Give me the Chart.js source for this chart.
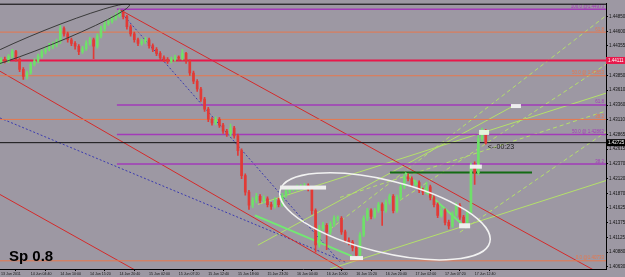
<!DOCTYPE html>
<html><head><meta charset="utf-8">
<script src="https://cdn.jsdelivr.net/npm/chart.js@4.4.1/dist/chart.umd.min.js"></script>
<style>html,body{margin:0;padding:0;background:#9d98a3;overflow:hidden}#wrap{width:625px;height:277px;position:relative}</style>
</head><body><div id="wrap"><canvas id="c" width="625" height="277"></canvas></div>
<script>
// ---- data ----
const xLabels = ['13 Jun 2011','14 Jun 04:40','14 Jun 10:00','14 Jun 15:20','14 Jun 20:40','15 Jun 02:00','15 Jun 07:20','15 Jun 12:40','15 Jun 18:00','15 Jun 23:20','16 Jun 04:40','16 Jun 10:00','16 Jun 15:20','16 Jun 20:40','17 Jun 02:00','17 Jun 07:20','17 Jun 12:40'];
const xTickIdx = [0,8,16,24,32,40,48,56,64,72,80,88,96,104,112,120,128];
const yTickLabels = ['1.44850','1.44600','1.44355','1.44106','1.43850','1.43610','1.43360','1.43110','1.42865','1.42615','1.42370','1.42120','1.41870','1.41625','1.41375','1.41125','1.40880','1.40630'];

const opens = [1.4408,1.4413,1.4410,1.4418,1.4426,1.4413,1.4396,1.4384,1.4390,1.4405,
1.4410,1.4418,1.4426,1.4430,1.4435,1.4438,1.4443,1.4465,1.4456,1.4446,
1.4440,1.4435,1.4426,1.4431,1.4440,1.4446,1.4435,1.4452,1.4465,1.4473,
1.4477,1.4482,1.4487,1.4493,1.4485,1.4468,1.4456,1.4446,1.4440,1.4443,
1.4446,1.4436,1.4430,1.4423,1.4416,1.4413,1.4410,1.4413,1.4416,1.4415,
1.4423,1.4410,1.4390,1.4376,1.4363,1.4346,1.4329,1.4312,1.4306,1.4312,
1.4302,1.4292,1.4287,1.4297,1.4284,1.4259,1.4217,1.4189,1.4167,1.4175,
1.4182,1.4175,1.4178,1.4168,1.4165,1.4175,1.4168,1.4183,1.4190,1.4195,
1.4195,1.4197,1.4198,1.4200,1.4195,1.4158,1.4100,1.4128,1.4133,1.4122,
1.4135,1.4145,1.4145,1.4122,1.4108,1.4105,1.4095,1.4083,1.4117,1.4145,
1.4158,1.4148,1.4158,1.4168,1.4158,1.4172,1.4182,1.4158,1.4180,1.4198,
1.4215,1.4212,1.4202,1.4205,1.4192,1.4189,1.4198,1.4180,1.4168,1.4150,
1.4158,1.4138,1.4132,1.4152,1.4167,1.4147,1.4138,1.4155,1.4232,1.4222,
1.4279,1.4292];
const highs = [1.4416,1.4417,1.4421,1.4430,1.4428,1.4415,1.4399,1.4393,1.4408,1.4414,
1.4422,1.4429,1.4434,1.4440,1.4442,1.4447,1.4470,1.4468,1.4459,1.4449,
1.4443,1.4438,1.4435,1.4444,1.4450,1.4449,1.4456,1.4469,1.4477,1.4481,
1.4486,1.4491,1.4497,1.4495,1.4487,1.4471,1.4459,1.4449,1.4447,1.4450,
1.4449,1.4439,1.4433,1.4426,1.4419,1.4416,1.4417,1.4420,1.4419,1.4430,
1.4425,1.4412,1.4393,1.4379,1.4366,1.4349,1.4332,1.4315,1.4316,1.4315,
1.4305,1.4295,1.4304,1.4300,1.4287,1.4262,1.4220,1.4192,1.4180,1.4187,
1.4185,1.4183,1.4181,1.4172,1.4180,1.4179,1.4187,1.4194,1.4199,1.4199,
1.4201,1.4202,1.4204,1.4203,1.4197,1.4161,1.4133,1.4138,1.4136,1.4139,
1.4149,1.4149,1.4148,1.4125,1.4112,1.4108,1.4098,1.4121,1.4149,1.4162,
1.4161,1.4162,1.4172,1.4171,1.4176,1.4186,1.4185,1.4184,1.4202,1.4219,
1.4220,1.4215,1.4209,1.4208,1.4196,1.4206,1.4201,1.4183,1.4171,1.4163,
1.4161,1.4142,1.4156,1.4171,1.4170,1.4150,1.4159,1.4238,1.4240,1.4285,
1.4297,1.4295];
const lows = [1.4405,1.4407,1.4408,1.4415,1.4410,1.4392,1.4379,1.4380,1.4388,1.4402,
1.4407,1.4415,1.4422,1.4427,1.4431,1.4434,1.4440,1.4452,1.4442,1.4436,
1.4430,1.4421,1.4423,1.4428,1.4437,1.4414,1.4432,1.4449,1.4461,1.4470,
1.4474,1.4479,1.4484,1.4481,1.4464,1.4452,1.4442,1.4436,1.4437,1.4440,
1.4432,1.4426,1.4419,1.4412,1.4409,1.4406,1.4407,1.4410,1.4411,1.4412,
1.4406,1.4386,1.4372,1.4359,1.4342,1.4325,1.4308,1.4302,1.4303,1.4298,
1.4288,1.4283,1.4284,1.4280,1.4251,1.4212,1.4184,1.4160,1.4163,1.4171,
1.4171,1.4171,1.4164,1.4160,1.4162,1.4164,1.4165,1.4180,1.4187,1.4191,
1.4192,1.4194,1.4195,1.4191,1.4152,1.4088,1.4096,1.4124,1.4092,1.4118,
1.4131,1.4140,1.4118,1.4104,1.4100,1.4090,1.4078,1.4080,1.4114,1.4141,
1.4144,1.4145,1.4155,1.4133,1.4155,1.4169,1.4154,1.4155,1.4177,1.4195,
1.4208,1.4198,1.4199,1.4188,1.4185,1.4186,1.4176,1.4164,1.4146,1.4147,
1.4134,1.4127,1.4129,1.4149,1.4143,1.4133,1.4135,1.4152,1.4202,1.4218,
1.4275,1.4270];
const closes = [1.4413,1.4410,1.4418,1.4426,1.4413,1.4396,1.4384,1.4390,1.4405,1.4410,
1.4418,1.4426,1.4430,1.4435,1.4438,1.4443,1.4465,1.4456,1.4446,1.4440,
1.4435,1.4426,1.4431,1.4440,1.4446,1.4435,1.4452,1.4465,1.4473,1.4477,
1.4482,1.4487,1.4493,1.4485,1.4468,1.4456,1.4446,1.4440,1.4443,1.4446,
1.4436,1.4430,1.4423,1.4416,1.4413,1.4410,1.4413,1.4416,1.4415,1.4423,
1.4410,1.4390,1.4376,1.4363,1.4346,1.4329,1.4312,1.4306,1.4312,1.4302,
1.4292,1.4287,1.4297,1.4284,1.4259,1.4217,1.4189,1.4167,1.4175,1.4182,
1.4175,1.4178,1.4168,1.4165,1.4175,1.4168,1.4183,1.4190,1.4195,1.4195,
1.4197,1.4198,1.4200,1.4195,1.4158,1.4100,1.4128,1.4133,1.4122,1.4135,
1.4145,1.4145,1.4122,1.4108,1.4105,1.4095,1.4083,1.4117,1.4145,1.4158,
1.4148,1.4158,1.4168,1.4158,1.4172,1.4182,1.4158,1.4180,1.4198,1.4215,
1.4212,1.4202,1.4205,1.4192,1.4189,1.4198,1.4180,1.4168,1.4150,1.4158,
1.4138,1.4132,1.4152,1.4167,1.4147,1.4138,1.4155,1.4232,1.4222,1.4279,
1.4292,1.4272];

// fibonacci / horizontal levels (price)
const orangeLevels = [1.44589, 1.43853, 1.43117, 1.40733];
const orangeLabels = ['61.8', '50.0 @ 1.43853', '38.2', '0.0 @1.40733'];
const purpleLevels = [1.44973, 1.43360, 1.42862, 1.42364];
const purpleLabels = ['100.0 @1.44973', '61.8', '50.0 @ 1.42862', '38.2'];
const purpleStart = 31.3;
const redLevel = 1.44111;
const currentPrice = 1.42725;
const timerText = '<--00:23';
const spreadText = 'Sp 0.8';

// trend lines: [[barIndex, price],[barIndex, price]]
const redLines = [
  [[32.1, 1.44967], [163.5, 1.40464]],
  [[-0.3, 1.43929], [97.0, 1.40428]],
  [[-0.3, 1.41851], [42.9, 1.40344]]
];
const blueDotted = [
  [[32.7, 1.44900], [91.6, 1.40713]],
  [[-0.3, 1.43141], [93.0, 1.40713]]
];
const greenSolid = [
  [[69.4, 1.40997], [138.9, 1.43359]],
  [[69.4, 1.41684], [163.5, 1.43560]],
  [[88.9, 1.40595], [163.5, 1.42086]]
];
const greenDashed = [
  [[91.6, 1.41801], [163.5, 1.43259]],
  [[107.8, 1.41751], [163.5, 1.44046]],
  [[88.9, 1.41265], [163.5, 1.44866]],
  [[124.0, 1.41215], [163.5, 1.42907]]
];
const brightGreen = [
  [[68.6, 1.41500], [94.8, 1.40813]],
  [[109.2, 1.42220], [124.6, 1.41349]]
];
const darkGreenLevel = [[105.1, 1.42220], [143.5, 1.42220]];
// ellipses: major-axis end points + minor/major ratio
const ellipses = [
  {a: [-9.4, 1.43945], b: [34.7, 1.45051], ratio: 0.09, color: '#3a3a3a', width: 1},
  {a: [75.4, 1.41920], b: [132.1, 1.41046], ratio: 0.333, color: '#f2f2f2', width: 1.5}
];
// small price-label boxes (anchor = left/top)
const boxAnchors = [[75.4, 1.42002], [94.3, 1.40813], [137.8, 1.43376], [129.2, 1.42940], [126.7, 1.42354], [123.8, 1.41366]];

// ---- styles ----
const XMIN = -0.3, XMAX = 163.5, YMIN = 1.40595, YMAX = 1.45068;
const BG = '#9d98a3';
const BULL = '#6fe06a', BEAR = '#e23a36';
const ORANGE = '#e8774c', PURPLE = '#a23bb8', RED = '#e8174a';
const boxSizes = [[46,4],[13,4],[10,4],[10,5],[12,4],[11,5]];

const candleColors = closes.map((c, i) => c >= opens[i] ? BULL : BEAR);
const wickData = closes.map((c, i) => ({x: i, y: [lows[i], highs[i]]}));
const bodyData = closes.map((c, i) => ({x: i, y: [Math.min(opens[i], c), Math.max(opens[i], c)]}));

function seg(pts, color, width, dash, order) {
  return {type: 'line', data: pts.map(p => ({x: p[0], y: p[1]})), borderColor: color, borderWidth: width,
    borderDash: dash || [], pointRadius: 0, fill: false, tension: 0, order: order == null ? 5 : order};
}
const datasets = [];
orangeLevels.forEach(v => datasets.push(seg([[XMIN, v], [XMAX, v]], ORANGE, 1)));
purpleLevels.forEach(v => datasets.push(seg([[purpleStart, v], [XMAX, v]], PURPLE, 1.5)));
datasets.push(seg([[XMIN, redLevel], [XMAX, redLevel]], RED, 2));
datasets.push(seg([[XMIN, currentPrice], [XMAX, currentPrice]], '#111111', 1));
redLines.forEach(l => datasets.push(seg(l, '#d42a2a', 1)));
blueDotted.forEach(l => datasets.push(seg(l, '#3b3bb0', 1, [2, 2])));
greenSolid.forEach(l => datasets.push(seg(l, '#b4e06a', 1)));
greenDashed.forEach(l => datasets.push(seg(l, '#b4e06a', 1, [4, 3])));
brightGreen.forEach(l => datasets.push(seg(l, '#72e872', 2, [], 3)));
datasets.push(seg(darkGreenLevel, '#136b13', 2, [], 3));
datasets.push({type: 'bar', data: wickData, backgroundColor: candleColors, barThickness: 1, grouped: false, order: 1, borderWidth: 0});
datasets.push({type: 'bar', data: bodyData, backgroundColor: candleColors, barThickness: 2, grouped: false, order: 0, borderWidth: 0, minBarLength: 1});

const overlay = {
  id: 'overlay',
  beforeDraw(chart) {
    const ctx = chart.ctx;
    ctx.save(); ctx.fillStyle = BG; ctx.fillRect(0, 0, chart.width, chart.height); ctx.restore();
  },
  afterDatasetsDraw(chart) {
    const ctx = chart.ctx, xs = chart.scales.x, ys = chart.scales.y, ca = chart.chartArea;
    const P = p => [xs.getPixelForValue(p[0]), ys.getPixelForValue(p[1])];
    ctx.save();
    ctx.beginPath(); ctx.rect(ca.left, ca.top, ca.right - ca.left, ca.bottom - ca.top); ctx.clip();
    ellipses.forEach(e => {
      const [x1, y1] = P(e.a), [x2, y2] = P(e.b);
      const cx = (x1 + x2) / 2, cy = (y1 + y2) / 2;
      const a = Math.hypot(x2 - x1, y2 - y1) / 2, ang = Math.atan2(y2 - y1, x2 - x1);
      ctx.beginPath(); ctx.ellipse(cx, cy, a, a * e.ratio, ang, 0, Math.PI * 2);
      ctx.strokeStyle = e.color; ctx.lineWidth = e.width; ctx.stroke();
    });
    boxAnchors.forEach((b, i) => {
      const [x, y] = P(b);
      ctx.fillStyle = i === 3 ? '#e4f4dc' : '#eeeeee';
      ctx.fillRect(x, y, boxSizes[i][0], boxSizes[i][1]);
    });
    // level labels
    ctx.font = '4.5px "Liberation Sans", Arial, sans-serif';
    ctx.textAlign = 'right'; ctx.textBaseline = 'bottom';
    orangeLevels.forEach((v, i) => { ctx.fillStyle = ORANGE; ctx.fillText(orangeLabels[i], ca.right - 2, ys.getPixelForValue(v) - 0.5); });
    purpleLevels.forEach((v, i) => { ctx.fillStyle = PURPLE; ctx.fillText(purpleLabels[i], ca.right - 2, ys.getPixelForValue(v) - 0.5); });
    // timer
    ctx.font = '7px "Liberation Sans", Arial, sans-serif';
    ctx.textAlign = 'left'; ctx.textBaseline = 'top'; ctx.fillStyle = '#1a1a1a';
    ctx.fillText(timerText, xs.getPixelForValue(closes.length - 1) + 2, ys.getPixelForValue(currentPrice) + 0.5);
    // spread
    ctx.font = 'bold 15px "Liberation Sans", Arial, sans-serif';
    ctx.textBaseline = 'alphabetic'; ctx.fillStyle = '#000';
    ctx.fillText(spreadText, ca.left + 9, ca.bottom - 8);
    ctx.restore();
    // frame top
    ctx.save(); ctx.strokeStyle = '#000'; ctx.lineWidth = 1;
    ctx.beginPath(); ctx.moveTo(ca.left, ca.top + 0.5); ctx.lineTo(ca.right, ca.top + 0.5); ctx.stroke();
    // price tags on axis
    ctx.font = '4.5px "Liberation Sans", Arial, sans-serif'; ctx.textAlign = 'left'; ctx.textBaseline = 'middle';
    [[redLevel, '#e8174a', '1.44111'], [currentPrice, '#000', '1.42725']].forEach(t => {
      const y = ys.getPixelForValue(t[0]);
      ctx.fillStyle = t[1]; ctx.fillRect(ca.right, y - 3.5, chart.width - ca.right, 7);
      ctx.fillStyle = '#fff'; ctx.fillText(t[2], ca.right + 2, y);
    });
    ctx.restore();
  }
};

new Chart(document.getElementById('c'), {
  type: 'bar',
  data: {datasets},
  options: {
    responsive: false, animation: false, events: [],
    layout: {autoPadding: false, padding: {top: 2, left: 0, right: 0, bottom: 0}},
    plugins: {legend: {display: false}, tooltip: {enabled: false}},
    scales: {
      x: {
        type: 'linear', min: XMIN, max: XMAX, offset: false, position: 'bottom',
        afterFit: s => { s.height = 8; },
        afterBuildTicks: s => { s.ticks = xTickIdx.map(v => ({value: v})); },
        ticks: {autoSkip: false, maxRotation: 0, align: 'start', padding: 0.5, color: '#111',
          font: {size: 3.6, family: '"Liberation Sans", Arial, sans-serif'},
          callback: (v, i) => xLabels[i]},
        grid: {drawOnChartArea: false, tickLength: 2, color: '#000'},
        border: {display: true, color: '#000', width: 1}
      },
      y: {
        type: 'linear', min: YMIN, max: YMAX, position: 'right',
        afterFit: s => { s.width = 19; },
        afterBuildTicks: s => { s.ticks = yTickLabels.map(t => ({value: parseFloat(t)})); },
        ticks: {autoSkip: false, padding: 1, color: '#111',
          font: {size: 4.5, family: '"Liberation Sans", Arial, sans-serif'},
          callback: (v, i) => yTickLabels[i]},
        grid: {drawOnChartArea: false, tickLength: 2, color: '#000'},
        border: {display: true, color: '#000', width: 1}
      }
    }
  },
  plugins: [overlay]
});
</script>
</body></html>
